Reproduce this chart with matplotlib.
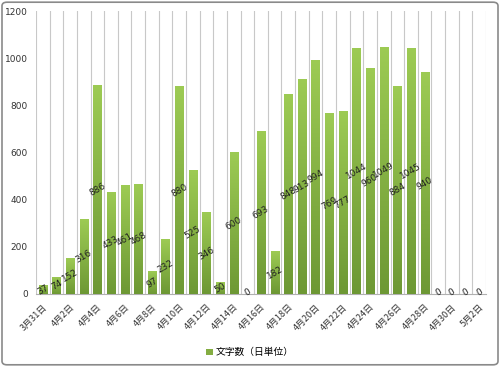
import matplotlib
matplotlib.use("Agg")
import matplotlib.pyplot as plt
import numpy as np
from matplotlib.patches import FancyBboxPatch
from matplotlib.colors import LinearSegmentedColormap

plt.rcParams['font.family'] = ['Noto Sans CJK JP', 'DejaVu Sans']

categories = ["3月31日", "4月1日", "4月2日", "4月3日", "4月4日", "4月5日", "4月6日", "4月7日",
              "4月8日", "4月9日", "4月10日", "4月11日", "4月12日", "4月13日", "4月14日", "4月15日",
              "4月16日", "4月17日", "4月18日", "4月19日", "4月20日", "4月21日", "4月22日", "4月23日",
              "4月24日", "4月25日", "4月26日", "4月27日", "4月28日", "4月29日", "4月30日", "5月1日", "5月2日"]
values = [37, 74, 152, 316, 886, 433, 461, 468, 97, 232, 880, 525, 346, 50, 600, 0,
          693, 182, 848, 913, 994, 769, 777, 1044, 960, 1049, 884, 1045, 940, 0, 0, 0, 0]
series_name = "文字数（日単位）"
yticks = [0, 200, 400, 600, 800, 1000, 1200]

fig = plt.figure(figsize=(5, 3.67), dpi=100)
ax = fig.add_axes([0.072, 0.199, 0.9, 0.771])

n = len(categories)
x = np.arange(n)
bars = ax.bar(x, values, width=0.6, color="#84ad42", zorder=2, label=series_name)

cmap = LinearSegmentedColormap.from_list("g", ["#6d9834", "#9dcb54"])
grad = np.linspace(0, 1, 256).reshape(-1, 1)
for b in bars:
    h = b.get_height()
    if h <= 0:
        continue
    im = ax.imshow(grad, cmap=cmap, aspect='auto', origin='lower',
                   extent=[b.get_x(), b.get_x() + b.get_width(), 0, h], zorder=3)
    im.set_clip_path(b)

for xi, v in zip(x, values):
    ax.text(xi, v / 2 if v > 0 else 8, str(v), rotation=30, ha='center', va='center',
            fontsize=6.5, color="#222222", zorder=5, family='DejaVu Sans')

ax.set_xlim(-0.5, n - 0.5)
ax.set_ylim(0, 1200)
for b in np.arange(-0.5, n, 1.0):
    ax.plot([b, b], [0, 1200], color="#c8c8c8", lw=0.8, zorder=1)

ax.set_yticks(yticks)
ax.set_yticklabels([str(t) for t in yticks], fontsize=6.5, color="#333333", family='DejaVu Sans')
ax.set_xticks(x[::2])
ax.set_xticklabels(categories[::2], rotation=45, ha='right', rotation_mode='anchor',
                   fontsize=6.5, color="#333333")
ax.tick_params(axis='both', length=0, pad=6)
for s in ['top', 'right', 'left']:
    ax.spines[s].set_visible(False)
ax.spines['bottom'].set_color("#b0b0b0")

leg = fig.legend(handles=[bars], labels=[series_name], loc='center', bbox_to_anchor=(0.5, 0.04),
                 frameon=False, fontsize=7, handlelength=0.7, handleheight=0.7, handletextpad=0.3)

border = FancyBboxPatch((0.004, 0.006), 0.992, 0.988, boxstyle="round,pad=0,rounding_size=0.01",
                        transform=fig.transFigure, fill=False, edgecolor="#8a8a8a", lw=1.2)
fig.patches.append(border)

fig.savefig("out.png", dpi=100)
